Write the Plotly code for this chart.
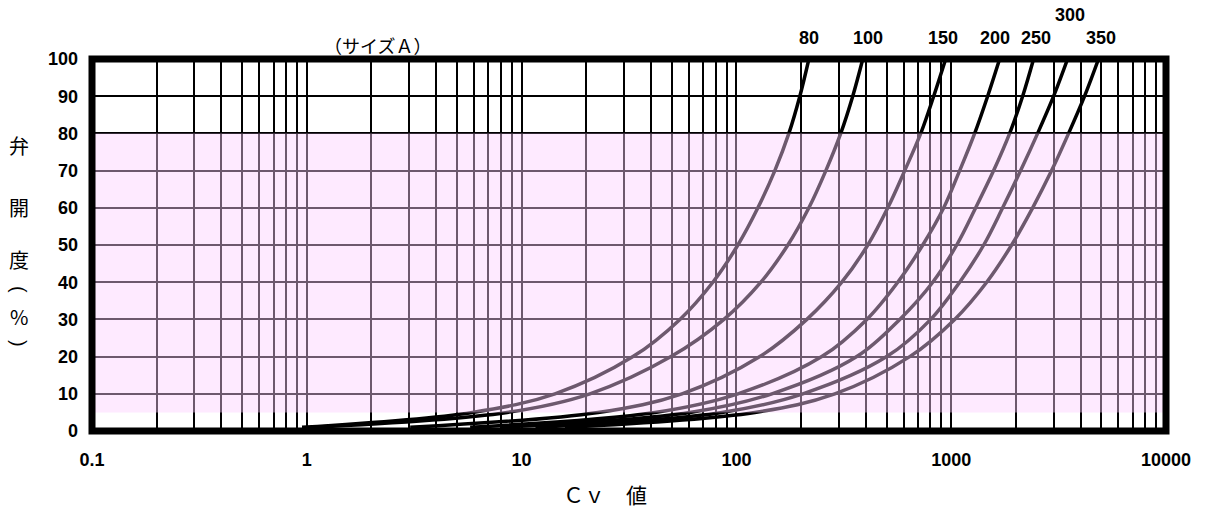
import numpy as np
import plotly.graph_objects as go

# ---------------- data ----------------
sizes = ["80", "100", "150", "200", "250", "300", "350"]
opening = [1, 5, 10, 20, 30, 40, 50, 60, 70, 80, 90, 100]   # valve opening %

cv_80  = [0.95, 5.9, 14.3, 33.0, 54.6, 77.7, 101.6, 125.9, 151, 175.5, 197.4, 217.5]
cv_100 = [1.04, 8.56, 20.8, 49.6, 87.5, 130, 173.6, 217.5, 260.9, 306, 348, 387.6]
cv_150 = [3.03, 22.7, 55.8, 128.6, 212.8, 309.5, 409, 506.7, 607.6, 721.4, 828.9, 942.8]
cv_200 = [5.76, 41.8, 101.6, 249.8, 404.6, 563.9, 737, 922.9, 1095, 1286, 1478, 1681]
cv_250 = [7.94, 60.8, 146.3, 363.5, 576.2, 820.4, 1061, 1300, 1576, 1871, 2151, 2419]
cv_300 = [11.6, 85.6, 203.9, 501, 803, 1095, 1417, 1736, 2105, 2526, 2998, 3483]
cv_350 = [15.9, 121.9, 287.2, 641.2, 1038, 1463, 1912, 2394, 2934, 3520, 4177, 4853]
curves = [cv_80, cv_100, cv_150, cv_200, cv_250, cv_300, cv_350]
label_raise = [0, 0, 0, 0, 0, 1, 0]
label_dx = [0, 5, -3, -5, 2, 2, 2]

x_major = [0.1, 1, 10, 100, 1000, 10000]
x_major_text = ["0.1", "1", "10", "100", "1000", "10000"]
x_minor = [m * d for d in [0.1, 1, 10, 100, 1000] for m in range(2, 10)]
y_ticks = list(range(0, 101, 10))

band_low, band_high = 5, 80

# ---------------- figure ----------------
W, H = 1210, 508
ML, MR, MT, MB = 92, 44, 59, 77
PW, PH = W - ML - MR, H - MT - MB

def px(xp, yp):
    return (xp - ML) / PW, (H - MB - yp) / PH

fig = go.Figure()
for name, cv in zip(sizes, curves):
    fig.add_trace(go.Scatter(
        x=cv, y=opening, mode="lines", name=name,
        line=dict(color="black", width=3.5, shape="spline", smoothing=1.0),
        hoverinfo="skip", showlegend=False))

num_font = dict(family="Liberation Sans, Arial, sans-serif", size=18, color="black",
                weight="bold")
jp = "Noto Sans CJK JP, sans-serif"

fig.update_layout(
    width=W, height=H,
    margin=dict(l=ML, r=MR, t=MT, b=MB),
    paper_bgcolor="white", plot_bgcolor="white",
    xaxis=dict(type="log", range=[-1, 4], tickvals=x_major, ticktext=x_major_text,
               showgrid=True, gridcolor="black", gridwidth=2, zeroline=False,
               ticks="", tickfont=num_font, ticklabelstandoff=16,
               minor=dict(tickvals=x_minor, showgrid=True, gridcolor="black",
                          gridwidth=2, ticks="")),
    yaxis=dict(range=[0, 100], tickvals=y_ticks, showgrid=True, gridcolor="black",
               gridwidth=2, zeroline=False, ticks="", tickfont=num_font,
               ticklabelstandoff=13),
)

# pink translucent band (tints grid and curves)
fig.add_shape(type="rect", xref="x domain", yref="y", x0=0, x1=1,
              y0=band_low, y1=band_high, layer="above",
              fillcolor="rgb(252,207,255)", opacity=0.43, line=dict(width=0))
# thick frame
fig.add_shape(type="rect", xref="x domain", yref="y domain", x0=0, x1=1, y0=0, y1=1,
              layer="above", line=dict(color="black", width=7))

# curve size labels at top ends
for name, cv, r, dx in zip(sizes, curves, label_raise, label_dx):
    fig.add_annotation(x=np.log10(cv[-1]), y=opening[-1], xref="x", yref="y",
                       text=name, showarrow=False, yshift=21 + 23 * r, xshift=dx,
                       xanchor="center", yanchor="middle", font=num_font)

def text_at(xp, yp, txt, size, angle=0, family=jp):
    x0, y0 = px(xp, yp)
    fig.add_annotation(x=x0, y=y0, xref="paper", yref="paper", text=txt,
                       showarrow=False, xanchor="center", yanchor="middle",
                       textangle=angle,
                       font=dict(family=family, size=size, color="black"))

text_at(377, 45, "（サイズＡ）", 18)
text_at(605, 494, "Ｃｖ　値", 21)
for ch, yy in [("弁", 145), ("開", 207), ("度", 259)]:
    text_at(19, yy, ch, 20)
text_at(19, 289, "(", 20, angle=90, family="Liberation Sans, sans-serif")
text_at(19, 316, "%", 20)
text_at(19, 343, ")", 20, angle=90, family="Liberation Sans, sans-serif")

fig.write_html("out.html")
